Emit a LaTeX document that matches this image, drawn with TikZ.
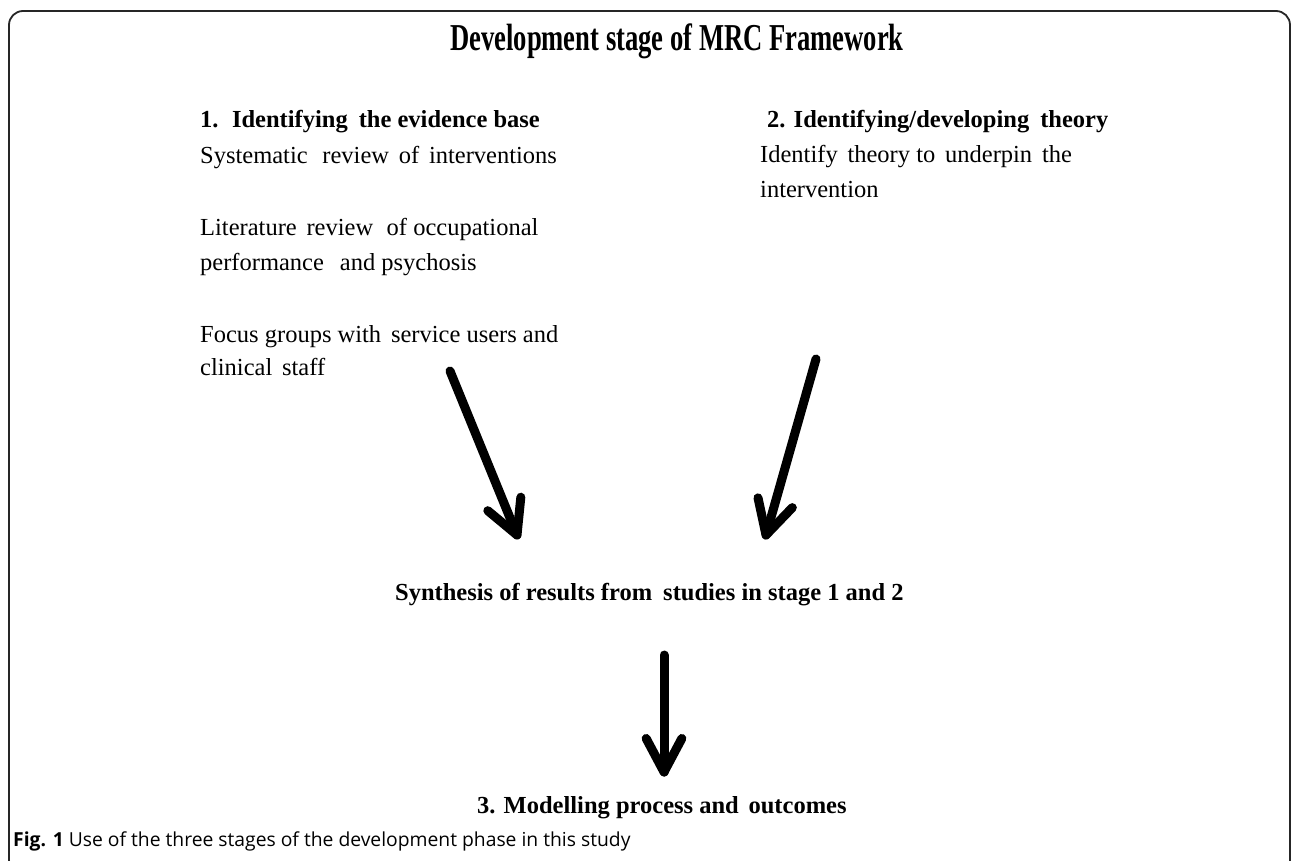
\documentclass[tikz,border=0pt]{standalone}
\usepackage{fontspec}
\setmainfont{Liberation Serif}
\newfontfamily\capfont{Open Sans}
\newfontfamily\titlefont[FakeStretch=0.70]{Liberation Serif}
\usetikzlibrary{calc}
\tikzset{
  txt/.style={inner sep=0pt, anchor=base west, font=\fontsize{24.5}{35}\selectfont},
  bold/.style={txt, font=\fontsize{24.5}{35}\selectfont\bfseries},
  shaft/.style={line width=9pt, line cap=round, line join=round, black},
  frame/.style={line width=1.8pt, rounded corners=14pt, draw=black!85}
}
\begin{document}
\begin{tikzpicture}[x=1pt,y=-1pt]
\useasboundingbox (0,0) rectangle (1292,860);
\begin{scope}
\clip (0,0) rectangle (1292,860);
\draw[frame] (9,11) rectangle (1290,874);
\end{scope}
% title
\node[inner sep=0pt, anchor=base west, font=\titlefont\fontsize{38}{40}\selectfont\bfseries] (title) at (450,50) {Development stage of MRC Framework};
% left column
\node[bold] (h1) at (200,127) {1.\hspace{0.55em}Identifying\hspace{0.45em}the evidence base};
\node[txt] (l1) at (200,163) {Systematic\hspace{0.6em}review\hspace{0.4em}of\hspace{0.4em}interventions};
\node[txt] (l2) at (200,235) {Literature\hspace{0.4em}review\hspace{0.55em}of occupational};
\node[txt] (l3) at (200,270) {performance\hspace{0.65em}and psychosis};
\node[txt] (l4) at (200,342) {Focus groups with\hspace{0.4em}service users and};
\node[txt] (l5) at (200,375) {clinical\hspace{0.4em}staff};
% right column
\node[bold] (h2) at (767,127) {2. Identifying/developing\hspace{0.45em}theory};
\node[txt] (r1) at (760,162) {Identify\hspace{0.4em}theory to\hspace{0.4em}underpin\hspace{0.4em}the};
\node[txt] (r2) at (760,197) {intervention};
% middle and bottom
\node[bold] (syn) at (395,600) {Synthesis of results from\hspace{0.45em}studies in stage 1 and 2};
\node[bold] (mod) at (477,813) {3. Modelling process and\hspace{0.4em}outcomes};
% caption
\node[inner sep=0pt, anchor=base west, font=\capfont\fontsize{19.3}{22}\selectfont] (cap) at (13,846) {\textbf{Fig. 1} Use of the three stages of the development phase in this study};
% arrows
\coordinate (t1) at (450,371);
\coordinate (p1) at (517,535);
\coordinate (t2) at (816,359);
\coordinate (p2) at (766,535);
\coordinate (t3) at (664,655);
\coordinate (p3) at (664,772);
\draw[shaft] (t1) -- (p1);
\draw[shaft] ($(p1)!38pt!28:(t1)$) -- (p1) -- ($(p1)!38pt!-28:(t1)$);
\draw[shaft] (t2) -- (p2);
\draw[shaft] ($(p2)!38pt!28:(t2)$) -- (p2) -- ($(p2)!38pt!-28:(t2)$);
\draw[shaft] (t3) -- (p3);
\draw[shaft] ($(p3)!38pt!28:(t3)$) -- (p3) -- ($(p3)!38pt!-28:(t3)$);
\end{tikzpicture}
\end{document}
